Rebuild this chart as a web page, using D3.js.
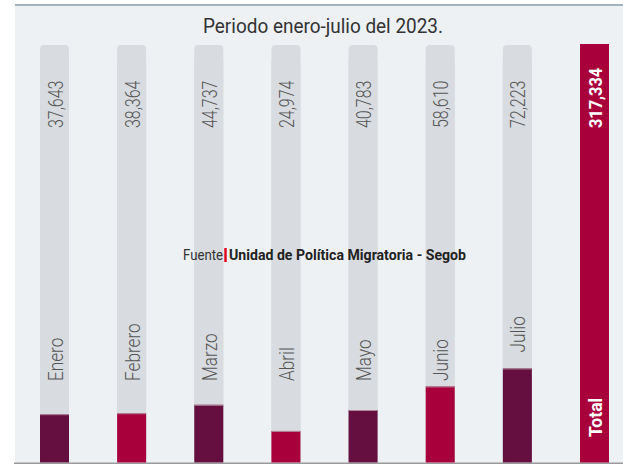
<!DOCTYPE html>
<html><head><meta charset="utf-8">
<script src="https://cdn.jsdelivr.net/npm/d3@7/dist/d3.min.js"></script>
<style>html,body{margin:0;padding:0;background:#fff;}svg{display:block;}</style>
</head><body>
<script>
const months = ["Enero","Febrero","Marzo","Abril","Mayo","Junio","Julio"];
const values = [37643,38364,44737,24974,40783,58610,72223];
const totalLabel = "Total";
const totalValue = 317334;
const titleText = "Periodo enero-julio del 2023.";
const sourceLabel = "Fuente";
const sourceText = "Unidad de Política Migratoria - Segob";

const W = 623, H = 464;
const dark = "#650e40", red = "#a8003b";
const svg = d3.select("body").append("svg").attr("width", W).attr("height", H);

// background panel
svg.append("rect").attr("x",15).attr("y",4).attr("width",W-15).attr("height",H-4).attr("fill","#edf1f4");
svg.append("rect").attr("x",15).attr("y",4).attr("width",W-15).attr("height",2).attr("fill","#a3b4bf");
svg.append("rect").attr("x",14).attr("y",462.5).attr("width",W-14).attr("height",1.5).attr("fill","#9a9a9a");

const cats = months.concat([totalLabel]);
const allVals = values.concat([totalValue]);
const x = d3.scaleBand().domain(cats).range([40,609]).paddingInner(0.624).paddingOuter(0);
const y = d3.scaleLinear().domain([0,totalValue]).range([464,44]);
const bw = x.bandwidth();
const fmt = d3.format(",");

// tracks
svg.selectAll("rect.track").data(months).join("rect").attr("class","track")
  .attr("x",d=>x(d)).attr("y",45).attr("width",bw).attr("height",462.5-45)
  .attr("rx",4).attr("fill","#d8dce0");
svg.selectAll("rect.trackfix").data(months).join("rect").attr("class","trackfix")
  .attr("x",d=>x(d)).attr("y",60).attr("width",bw).attr("height",402.5)
  .attr("fill","#d8dce0");

const data = cats.map((c,i)=>({c, v: allVals[i], i}));
const color = d => (d.i % 2 === 0 ? dark : red);

svg.selectAll("rect.bar").data(data).join("rect").attr("class","bar")
  .attr("x",d=>x(d.c)).attr("y",d=>y(d.v)).attr("width",bw).attr("height",d=>462.5-y(d.v))
  .attr("fill",d=>d.c===totalLabel?red:color(d));
svg.selectAll("rect.edge").data(data.filter(d=>d.c!==totalLabel)).join("rect").attr("class","edge")
  .attr("x",d=>x(d.c)).attr("y",d=>y(d.v)).attr("width",bw).attr("height",1)
  .attr("fill","#b08898");

// value labels
svg.selectAll("text.val").data(data).join("text").attr("class","val")
  .attr("transform",d=>`translate(${x(d.c)+bw/2+8},128) rotate(-90) scale(${d.c===totalLabel?0.86:0.8},1)`)
  .attr("font-family","Roboto, sans-serif")
  .attr("font-weight",d=>d.c===totalLabel?700:300)
  .attr("font-size",d=>d.c===totalLabel?19:20)
  .attr("fill",d=>d.c===totalLabel?"#fff":"#555")
  .text(d=>fmt(d.v));

// month labels
svg.selectAll("text.lab").data(data).join("text").attr("class","lab")
  .attr("transform",d=>{
    const top = y(d.v);
    const ly = d.c===totalLabel ? 437 : (top > 381 ? 381 : top - 16);
    return `translate(${x(d.c)+bw/2+8},${ly}) rotate(-90) scale(${d.c===totalLabel?0.92:0.86},1)`;
  })
  .attr("font-family","Roboto, sans-serif")
  .attr("font-weight",d=>d.c===totalLabel?700:300)
  .attr("font-size",d=>d.c===totalLabel?19:20)
  .attr("fill",d=>d.c===totalLabel?"#fff":"#555")
  .text(d=>d.c);

// title
svg.append("text").attr("x",203).attr("y",33)
  .attr("font-family","Roboto, sans-serif").attr("font-size",21).attr("fill","#333")
  .attr("textLength",240).attr("lengthAdjust","spacingAndGlyphs")
  .text(titleText);

// source
svg.append("text").attr("x",183).attr("y",260)
  .attr("font-family","Roboto, sans-serif").attr("font-size",14).attr("fill","#333")
  .attr("textLength",40).attr("lengthAdjust","spacingAndGlyphs").text(sourceLabel);
svg.append("rect").attr("x",224.3).attr("y",248).attr("width",2.4).attr("height",14).attr("fill","#e0001b");
svg.append("text").attr("x",229).attr("y",260)
  .attr("font-family","Roboto, sans-serif").attr("font-size",14).attr("font-weight",700).attr("fill","#222")
  .attr("textLength",237).attr("lengthAdjust","spacingAndGlyphs").text(sourceText);
</script>
</body></html>
